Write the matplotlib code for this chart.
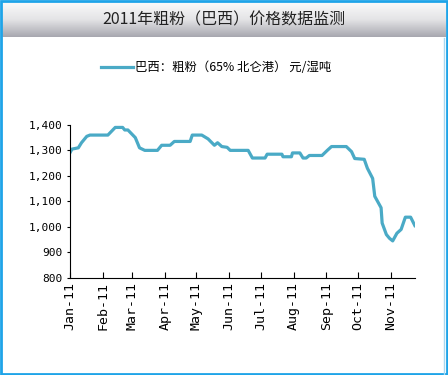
import matplotlib
matplotlib.use('Agg')
import matplotlib.pyplot as plt
import matplotlib.dates as mdates
import numpy as np
import pandas as pd

plt.rcParams['font.family'] = ['Noto Sans CJK SC', 'DejaVu Sans']

title = '2011年粗粉（巴西）价格数据监测'
series_name = '巴西：粗粉（65% 北仑港） 元/湿吨'

dates = ['2011-01-01', '2011-01-03', '2011-01-09', '2011-01-12', '2011-01-17', '2011-01-20',
         '2011-02-06', '2011-02-13', '2011-02-20', '2011-02-22', '2011-02-25', '2011-03-04',
         '2011-03-08', '2011-03-13', '2011-03-25', '2011-03-29', '2011-04-06', '2011-04-10',
         '2011-04-25', '2011-04-27', '2011-05-06', '2011-05-12', '2011-05-18', '2011-05-21',
         '2011-05-25', '2011-05-30', '2011-06-02', '2011-06-19', '2011-06-23', '2011-07-05',
         '2011-07-07', '2011-07-21', '2011-07-22', '2011-07-30', '2011-07-31', '2011-08-07',
         '2011-08-10', '2011-08-13', '2011-08-16', '2011-08-28', '2011-09-02', '2011-09-06',
         '2011-09-20', '2011-09-25', '2011-09-28', '2011-10-07', '2011-10-10', '2011-10-15',
         '2011-10-17', '2011-10-23', '2011-10-24', '2011-10-28', '2011-10-31', '2011-11-03',
         '2011-11-07', '2011-11-11', '2011-11-15', '2011-11-20', '2011-11-24']
prices = [1290, 1305, 1310, 1330, 1355, 1360,
          1360, 1390, 1390, 1380, 1380, 1350,
          1310, 1300, 1300, 1320, 1320, 1335,
          1335, 1360, 1360, 1345, 1320, 1330,
          1315, 1312, 1300, 1300, 1270, 1270,
          1285, 1285, 1275, 1275, 1290, 1290,
          1270, 1270, 1280, 1280, 1300, 1315,
          1315, 1295, 1268, 1265, 1230, 1190,
          1120, 1075, 1015, 970, 955, 945,
          975, 990, 1038, 1038, 1005]

x = pd.to_datetime(dates)

fig = plt.figure(figsize=(4.48, 3.75), dpi=100)

# title bar with grey gradient
bar = fig.add_axes([0.005, 0.9, 0.99, 0.093])
grad = np.linspace(0, 1, 50).reshape(-1, 1)
bar.imshow(grad, aspect='auto', cmap=matplotlib.colors.LinearSegmentedColormap.from_list(
    'g', ['#fafafa', '#e4e4e6', '#a8a8b0']), extent=[0, 1, 0, 1])
bar.set_axis_off()
bar.text(0.5, 0.5, title, ha='center', va='center', fontsize=11.5, color='#222222',
         family=['Noto Sans CJK SC', 'DejaVu Serif'])

ax = fig.add_axes([0.156, 0.259, 0.77, 0.408])
ax.plot(x, prices, color='#4aaac6', lw=2.3, solid_joinstyle='round', label=series_name)

ax.set_ylim(800, 1400)
ax.set_yticks(range(800, 1401, 100))
ax.set_yticklabels([f'{v:,}' for v in range(800, 1401, 100)], family='DejaVu Sans Mono', fontsize=8)
ax.set_xlim(pd.Timestamp('2011-01-01'), pd.Timestamp('2011-11-24'))
ax.xaxis.set_major_locator(mdates.MonthLocator())
ax.xaxis.set_major_formatter(mdates.DateFormatter('%b-11'))
for lab in ax.get_xticklabels():
    lab.set_rotation(90)
    lab.set_family('DejaVu Sans Mono')
    lab.set_fontsize(9.5)
ax.tick_params(axis='x', direction='in', length=4, pad=3)
ax.tick_params(axis='y', direction='out', length=2, pad=3)
ax.spines['top'].set_visible(False)
ax.spines['right'].set_visible(False)

ax.legend(loc='lower left', bbox_to_anchor=(0.075, 1.30), frameon=False, fontsize=8.9,
          handlelength=2.6, handletextpad=0.2, borderaxespad=0)

# outer frame
fig.patches.append(plt.Rectangle((0.002, 0.002), 0.996, 0.996, transform=fig.transFigure,
                                 fill=False, edgecolor='#1ea4e8', lw=2))
fig.add_artist(plt.Line2D([0.992, 0.992], [0.0, 0.9], color='#a8d8f0', lw=1))

plt.savefig('out.png', dpi=100)
